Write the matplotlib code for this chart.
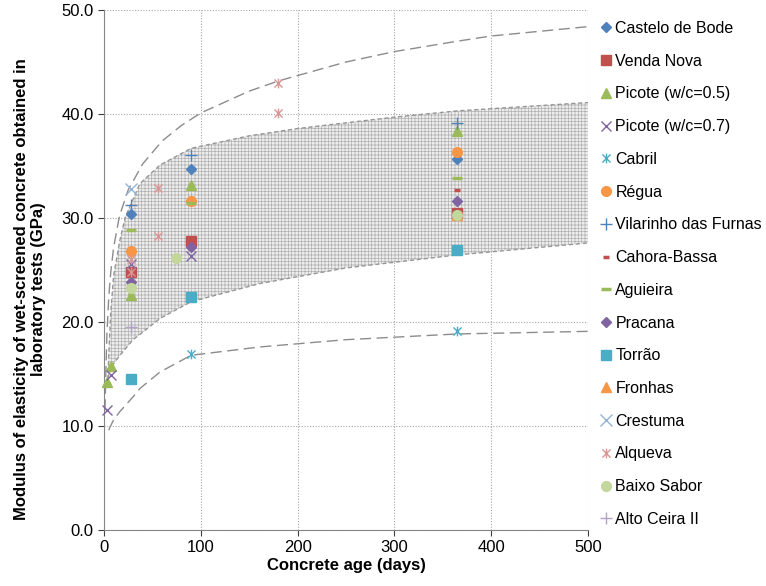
import matplotlib
matplotlib.use("Agg")
import matplotlib.pyplot as plt
from matplotlib.path import Path
import numpy as np

plt.rcParams['font.family'] = ['Liberation Sans', 'DejaVu Sans']
plt.rcParams['hatch.linewidth'] = 0.5

# ---------------- data ----------------
series_names = ["Castelo de Bode", "Venda Nova", "Picote (w/c=0.5)", "Picote (w/c=0.7)",
                "Cabril", "Régua", "Vilarinho das Furnas", "Cahora-Bassa", "Aguieira",
                "Pracana", "Torrão", "Fronhas", "Crestuma", "Alqueva", "Baixo Sabor",
                "Alto Ceira II"]

castelo_days = [28, 90, 365]
castelo_E = [30.35, 34.7, 35.7]
venda_days = [28, 90, 365]
venda_E = [24.8, 27.8, 30.45]
picote05_days = [3, 7, 28, 90, 365]
picote05_E = [14.2, 15.8, 22.6, 33.2, 38.4]
picote07_days = [3, 7, 28, 90]
picote07_E = [11.5, 14.9, 25.6, 26.3]
cabril_days = [90, 365]
cabril_E = [16.9, 19.1]
regua_days = [28, 90, 365]
regua_E = [26.8, 31.6, 36.3]
vilarinho_days = [28, 90, 365]
vilarinho_E = [31.25, 36.05, 39.1]
cahora_days = [365]
cahora_E = [32.7]
aguieira_days = [28, 90, 365]
aguieira_E = [28.85, 31.4, 33.8]
pracana_days = [28, 90, 365]
pracana_E = [23.8, 27.2, 31.6]
torrao_days = [28, 90, 365]
torrao_E = [14.5, 22.4, 26.9]
fronhas_days = [365]
fronhas_E = [30.3]
crestuma_days = [28]
crestuma_E = [32.8]
alqueva_days = [28, 28, 56, 56, 180, 180]
alqueva_E = [26.1, 24.8, 32.85, 28.3, 43.0, 40.1]
baixo_days = [28, 74, 365]
baixo_E = [23.3, 26.15, 30.3]
altoceira_days = [28]
altoceira_E = [19.5]

# envelope curves (days, GPa)
upper_days = [1, 2, 3, 5, 7, 10, 16, 25, 40, 60, 80, 100, 150, 181, 250, 300, 365, 400, 500]
upper_E = [11.5, 15.5, 18.8, 22.5, 24.8, 27.2, 30.2, 32.7, 35.2, 37.4, 38.9, 40.1, 42.2, 43.2, 45.0, 46.0, 47.0, 47.5, 48.4]
band_hi_days = [4, 5, 7, 10, 16.5, 22, 37, 58, 90, 150, 200, 300, 365, 500]
band_hi_E = [14.5, 17.0, 21.0, 24.5, 27.9, 30.1, 33.3, 35.1, 36.7, 37.9, 38.6, 39.7, 40.3, 41.1]
band_lo_days = [4, 6.2, 10, 16.5, 30, 37, 58, 90, 161, 250, 365, 500]
band_lo_E = [14.5, 15.4, 16.0, 16.8, 18.3, 18.8, 20.35, 21.95, 23.7, 25.2, 26.45, 27.6]
lower_days = [5, 6.2, 10, 16.5, 30, 37, 58, 90, 161, 250, 365, 500]
lower_E = [9.6, 9.9, 10.6, 11.4, 12.8, 13.6, 15.2, 16.8, 17.6, 18.3, 18.85, 19.1]

x_ticks = [0, 100, 200, 300, 400, 500]
y_ticks = [0, 10, 20, 30, 40, 50]

# ---------------- markers ----------------
star_path = Path([(-1, -1), (1, 1), (-1, 1), (1, -1), (0, -1.2), (0, 1.2)],
                 [Path.MOVETO, Path.LINETO, Path.MOVETO, Path.LINETO, Path.MOVETO, Path.LINETO])
dash_path = Path([(-1, 0), (1, 0)], [Path.MOVETO, Path.LINETO])

styles = [
    dict(marker='D', color='#4F81BD', ms=5.5),
    dict(marker='s', color='#C0504D', ms=6.5),
    dict(marker='^', color='#9BBB59', ms=7),
    dict(marker='x', color='#8064A2', ms=7, mew=1.0),
    dict(marker=star_path, color='#4BACC6', ms=7, mew=1.0),
    dict(marker='o', color='#F79646', ms=7),
    dict(marker='+', color='#4F81BD', ms=8, mew=1.0),
    dict(marker=dash_path, color='#C0504D', ms=4, mew=2.5),
    dict(marker=dash_path, color='#9BBB59', ms=7, mew=2.5),
    dict(marker='D', color='#8064A2', ms=5.5),
    dict(marker='s', color='#4BACC6', ms=7),
    dict(marker='^', color='#F79646', ms=7),
    dict(marker='x', color='#95B3D7', ms=8, mew=1.0),
    dict(marker=star_path, color='#D99694', ms=7, mew=1.0),
    dict(marker='o', color='#C3D69B', ms=7),
    dict(marker='+', color='#B3A2C7', ms=8, mew=1.0),
]

data = [(castelo_days, castelo_E), (venda_days, venda_E), (picote05_days, picote05_E),
        (picote07_days, picote07_E), (cabril_days, cabril_E), (regua_days, regua_E),
        (vilarinho_days, vilarinho_E), (cahora_days, cahora_E), (aguieira_days, aguieira_E),
        (pracana_days, pracana_E), (torrao_days, torrao_E), (fronhas_days, fronhas_E),
        (crestuma_days, crestuma_E), (alqueva_days, alqueva_E), (baixo_days, baixo_E),
        (altoceira_days, altoceira_E)]

# ---------------- figure ----------------
fig = plt.figure(figsize=(7.66, 5.86), dpi=100)
ax = fig.add_axes([104/766, 1-530/586, (588-104)/766, (530-10)/586])

# band
bx = np.array(band_hi_days + band_lo_days[::-1])
by = np.array(band_hi_E + band_lo_E[::-1])
ax.fill(bx, by, facecolor='#ededed', edgecolor='#b0b0b0', hatch='+++++', lw=0, zorder=1)
ax.plot(band_hi_days, band_hi_E, color='#969696', lw=1.0, ls=(0, (3, 2)), zorder=2)
ax.plot(band_lo_days, band_lo_E, color='#969696', lw=1.0, ls=(0, (3, 2)), zorder=2)
ax.plot(upper_days, upper_E, color='#8c8c8c', lw=1.0, ls=(0, (8, 4)), zorder=2)
ax.plot(lower_days, lower_E, color='#8c8c8c', lw=1.0, ls=(0, (8, 4)), zorder=2)

for name, (d, e), st in zip(series_names, data, styles):
    st = dict(st)
    ax.plot(d, e, ls='none', marker=st.pop('marker'), color=st.pop('color'),
            markersize=st.pop('ms'), markeredgewidth=st.pop('mew', 1.0),
            label=name, zorder=5, clip_on=False)

ax.set_xlim(0, 500)
ax.set_ylim(0, 50)
ax.set_xticks(x_ticks)
ax.set_yticks(y_ticks)
ax.set_yticklabels([f"{v:.1f}" for v in y_ticks])
ax.tick_params(labelsize=12, colors='#404040', length=4, labelcolor='#000000')
ax.grid(True, color='#a6a6a6', ls=(0, (1, 1.5)), lw=0.8)
ax.set_axisbelow(True)
for s in ['top', 'right']:
    ax.spines[s].set_visible(False)
for s in ['left', 'bottom']:
    ax.spines[s].set_color('#868686')

ax.set_xlabel("Concrete age (days)", fontsize=12, fontweight='bold', labelpad=2)
fig.text(30/766, 1-289/586,
         "Modulus of elasticity of wet-screened concrete obtained in\nlaboratory tests (GPa)",
         rotation=90, ha='center', va='center', multialignment='center',
         fontsize=12, fontweight='bold', linespacing=1.2)

leg = ax.legend(loc='upper left', bbox_to_anchor=(601/766, 1-21/586), bbox_transform=fig.transFigure,
                frameon=False, fontsize=11.5, labelspacing=1.11, handlelength=0.6,
                handletextpad=0.3, borderaxespad=0, borderpad=0)

fig.savefig("out.png", dpi=100)
